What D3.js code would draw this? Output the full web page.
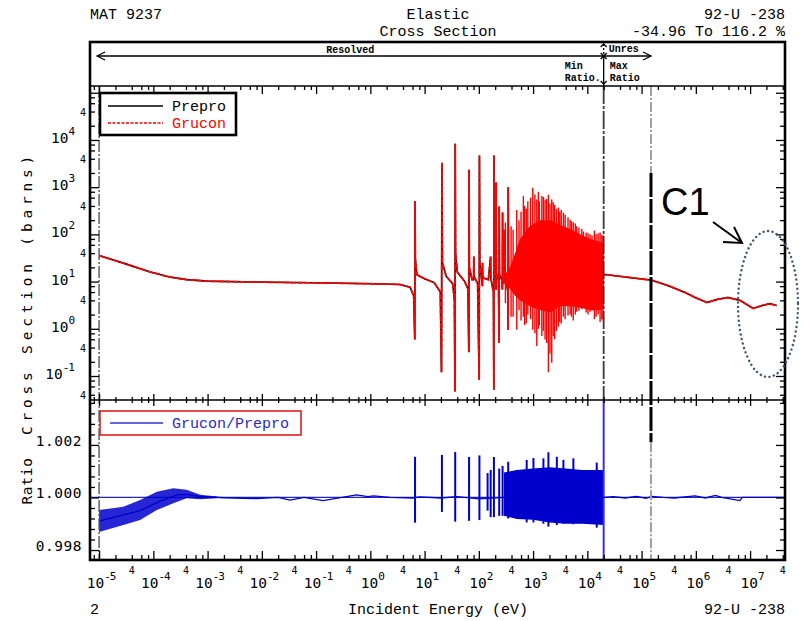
<!DOCTYPE html>
<html>
<head>
<meta charset="utf-8">
<script src="https://cdn.jsdelivr.net/npm/d3@7"></script>
<style>
  body { margin: 0; background: #fff; }
  svg { display: block; }
  .mono { font-family: "Liberation Mono", "DejaVu Sans Mono", monospace; }
  .num { font-family: "DejaVu Sans Mono", monospace; font-size: 14.5px; }
</style>
</head>
<body>
<div id="chart"></div>
<script>
// ---- values ----

// Elastic cross section (barns) vs incident energy (eV).
// Prepro and Grucon lie on top of each other at this scale.
const xsCurve = [
  [1e-5, 35.5], [3e-5, 24], [8.7e-5, 16], [2e-4, 12.5], [4.1e-4, 11], [1e-3, 10.2],
  [6e-3, 9.8], [0.18, 9.3], [1, 9.0], [3.5, 8.7], [5.4, 7.6], [6.3, 5.0],
  [6.6, 0.59], [6.67, 500], [6.75, 30], [7.2, 14], [10, 11.5], [15, 9.5],
  [19.5, 6], [20.5, 0.12], [20.87, 3300], [21.3, 25], [25, 13], [33, 9],
  [35.5, 4], [36.3, 0.047], [36.68, 8300], [37.2, 40], [40, 16], [55, 10],
  [63, 7], [65.5, 0.32], [66.03, 2350], [66.8, 20], [75, 11], [80.2, 11],
  [80.75, 34], [81.5, 13], [95, 9], [101.5, 0.083], [102.5, 4700], [104, 25],
  [112, 12], [116.5, 8], [116.9, 25], [118, 12], [150, 11], [165, 34],
  [166, 12], [186, 6], [189, 0.051], [189.7, 4700], [191, 20], [205, 12],
  [207.5, 6.7], [208.5, 1260], [211, 15], [230, 11], [236, 0.5], [237.4, 390],
  [240, 14], [265, 11], [272, 6.8], [273.7, 290], [276, 14], [289, 9],
  [291, 125], [294, 14], [310, 12], [345, 6], [347, 0.95], [347.8, 1000],
  [352, 15], [20000, 14], [21200, 14.1], [154000, 10.7], [310000, 8.2],
  [630000, 5.9], [970000, 4.6], [1.6e6, 3.6], [2.5e6, 4.2], [3.9e6, 4.6],
  [6.5e6, 4.0], [1.14e7, 2.7], [1.66e7, 3.1], [2.3e7, 3.4], [3.1e7, 3.1]
];

// dense resonance region: solid core [E, upper, lower] and single spikes [E, low, high]
const xsBandCore = [
  [300, 14, 9], [377, 20, 7], [466, 40, 5], [575, 80, 4], [879, 150, 3],
  [1343, 200, 2.5], [2056, 200, 2.2], [3140, 160, 3], [4810, 130, 3],
  [7350, 100, 2.8], [11220, 80, 2.5], [17180, 70, 2.5], [20000, 65, 2.7]
];
const xsBandSpikes = [
  [309, 3.5, 178], [393, 1.8, 148], [428, 1.8, 126], [500, 0.95, 330], [550, 2.5, 200],
  [600, 1.5, 300], [662, 1.8, 646], [700, 1.2, 400], [750, 1.3, 350], [800, 2, 500],
  [900, 1.6, 600], [986, 0.95, 977], [1080, 0.8, 700], [1170, 0.43, 550], [1250, 1, 800],
  [1300, 1.2, 500], [1450, 0.7, 650], [1550, 0.9, 620], [1664, 0.59, 550], [1780, 0.5, 560],
  [1916, 0.12, 690], [2050, 0.3, 450], [2208, 0.19, 550], [2350, 0.7, 480], [2500, 0.6, 420],
  [2700, 0.9, 350], [2930, 1.1, 370], [3100, 1.4, 300], [3300, 1.3, 330], [3622, 1.8, 288],
  [3900, 1.6, 260], [4400, 1.9, 230], [4810, 2.0, 204], [5100, 1.8, 190], [5500, 1.5, 180],
  [6000, 2.0, 170], [6380, 2.3, 148], [7000, 2.4, 140], [7900, 2.6, 130], [8470, 3.5, 115],
  [9500, 2.2, 110], [10300, 2.0, 105], [11220, 2.3, 100], [12200, 2.4, 95], [13500, 1.6, 120],
  [14500, 1.8, 100], [15800, 2.0, 105], [17180, 1.4, 110], [18500, 1.6, 98], [19500, 1.5, 95]
];

// Grucon/Prepro ratio
const ratioCurve = [
  [1e-5, 0.99910], [5.7e-5, 0.99950], [1.3e-4, 0.99985], [2.7e-4, 1.00010],
  [4.1e-4, 1.00012], [7.3e-4, 1.00004], [2e-3, 0.99999], [8e-3, 0.99996],
  [0.02, 1.00000], [0.033, 0.99990], [0.06, 1.00000], [0.135, 0.99988],
  [0.3, 1.00000], [0.56, 1.00010], [0.9, 1.00003], [1.14, 1.00006], [2.3, 1.00000],
  [6, 0.99998], [8, 1.00002], [20, 0.99998], [40, 1.00003], [100, 0.99995],
  [300, 1.00000], [20000, 1.00000], [30000, 1.00003], [50000, 0.99998],
  [80000, 1.00004], [120000, 0.99997], [154000, 1.00004], [250000, 1.00000],
  [400000, 0.99998], [970000, 1.00006], [1.5e6, 0.99998], [2.3e6, 1.00008],
  [3e6, 1.00000], [6.5e6, 0.99988], [7.2e6, 1.00000], [4.4e7, 1.00000]
];
const ratioNoiseBand = [
  [1e-5, 0.99952, 0.99869], [2.8e-5, 0.99965, 0.99895], [5.7e-5, 0.99990, 0.99914],
  [1.16e-4, 1.00022, 0.99952], [2.34e-4, 1.00035, 0.99978], [4.1e-4, 1.00029, 0.99997],
  [7.3e-4, 1.00010, 0.99993], [1.5e-3, 1.00004, 0.99997]
];
const ratioBandCore = [
  [290, 1.00095, 0.99930], [500, 1.00105, 0.99918], [1000, 1.00110, 0.99915],
  [2000, 1.00115, 0.99905], [4000, 1.00110, 0.99900], [8000, 1.00105, 0.99900],
  [20000, 1.00105, 0.99895]
];
const ratioSpikes = [
  [6.67, 1.00155, 0.99904], [20.87, 1.00162, 0.99945], [36.68, 1.00173, 0.99908],
  [66.03, 1.00154, 0.99911], [102.5, 1.00160, 0.99914], [145, 1.00093, 0.99950],
  [165.3, 1.00105, 0.99925], [189.7, 1.00154, 0.99925], [237.4, 1.00110, 0.99930],
  [273.7, 1.00120, 0.99930], [347.8, 1.00136, 0.99920], [762, 1.00143, 0.99905],
  [1015, 1.00150, 0.99905], [1550, 1.00149, 0.99900], [1916, 1.00172, 0.99889],
  [2740, 1.00155, 0.99895], [3620, 1.00143, 0.99900], [5530, 1.00149, 0.99898],
  [14900, 1.00133, 0.99885], [20000, 1.00371, 0.99762]
];

// resolved / unresolved boundaries (eV)
const resolvedEnd = 2e4;
const unresolvedEnd = 1.49e5;
const unresMarkXs = 2000;      // black part of the 149 keV marker starts here (barns)
const unresMarkRatio = 1.0021; // and ends here (ratio)

// tick labels
const xDecades = [-5, -4, -3, -2, -1, 0, 1, 2, 3, 4, 5, 6, 7];
const yDecades = [-1, 0, 1, 2, 3, 4];
const ratioLabels = [0.998, 1.000, 1.002];

// ---- layout ----
const W = 804, H = 621;
const L = 90, R = 785, T0 = 42, T1 = 86, MID = 400, B = 560;

const x = d3.scaleLog().domain([6.8e-6, 4.4e7]).range([L, R]);
const y = d3.scaleLog().domain([0.031, 1.39e5]).range([MID, T1]);
const yr = d3.scaleLinear().domain([0.99762, 1.00371]).range([B, MID]);

const svg = d3.select("#chart").append("svg")
  .attr("width", W)
  .attr("height", H);

const defs = svg.append("defs");
defs.append("clipPath").attr("id", "clipTop").append("rect")
  .attr("x", L).attr("y", T1).attr("width", R - L).attr("height", MID - T1);
defs.append("clipPath").attr("id", "clipRatio").append("rect")
  .attr("x", L).attr("y", MID).attr("width", R - L).attr("height", B - MID);

// ---- top panel ----
const gTop = svg.append("g").attr("clip-path", "url(#clipTop)");

const lineXs = d3.line().x(d => x(d[0])).y(d => y(d[1]));
const areaXs = d3.area().x(d => x(d[0])).y0(d => y(d[2])).y1(d => y(d[1]));

// Prepro (black) underneath
gTop.append("path")
  .datum(xsCurve)
  .attr("d", lineXs)
  .attr("fill", "none")
  .attr("stroke", "#000")
  .attr("stroke-width", 1.6);

gTop.append("path")
  .datum(xsBandCore)
  .attr("d", areaXs)
  .attr("fill", "#ff0000");

gTop.append("g")
  .selectAll("line")
  .data(xsBandSpikes)
  .join("line")
  .attr("x1", d => x(d[0])).attr("x2", d => x(d[0]))
  .attr("y1", d => y(d[1])).attr("y2", d => y(d[2]))
  .attr("stroke", "#ff0000")
  .attr("stroke-width", 1.4);

// Grucon (red dashed) on top
gTop.append("path")
  .datum(xsCurve)
  .attr("d", lineXs)
  .attr("fill", "none")
  .attr("stroke", "#ff0000")
  .attr("stroke-width", 1.8)
  .attr("stroke-dasharray", "6,1.2");

// ---- ratio panel ----
const gRat = svg.append("g").attr("clip-path", "url(#clipRatio)");

const lineR = d3.line().x(d => x(d[0])).y(d => yr(d[1]));
const areaR = d3.area().x(d => x(d[0])).y0(d => yr(d[2])).y1(d => yr(d[1]));

gRat.append("line")
  .attr("x1", L).attr("x2", R)
  .attr("y1", yr(1)).attr("y2", yr(1))
  .attr("stroke", "#2323d6")
  .attr("stroke-width", 1.2);

gRat.append("path")
  .datum(ratioNoiseBand)
  .attr("d", areaR)
  .attr("fill", "#0000cc")
  .attr("fill-opacity", 0.85);

gRat.append("path")
  .datum(ratioBandCore)
  .attr("d", areaR)
  .attr("fill", "#0000cc");

gRat.append("g")
  .selectAll("line")
  .data(ratioSpikes)
  .join("line")
  .attr("x1", d => x(d[0])).attr("x2", d => x(d[0]))
  .attr("y1", d => yr(d[2])).attr("y2", d => yr(d[1]))
  .attr("stroke", (d, i) => i === ratioSpikes.length - 1 ? "#3333dd" : "#0000cc")
  .attr("stroke-width", 2);

gRat.append("path")
  .datum(ratioCurve)
  .attr("d", lineR)
  .attr("fill", "none")
  .attr("stroke", "#0000cc")
  .attr("stroke-width", 1.3);

// ---- vertical reference lines ----
const vref = svg.append("g");

// data start (1e-5 eV), both panels
vref.append("line")
  .attr("x1", x(1e-5)).attr("x2", x(1e-5))
  .attr("y1", T1).attr("y2", B)
  .attr("stroke", "#555")
  .attr("stroke-width", 1.4)
  .attr("stroke-dasharray", "12,2,2,2");

// end of resolved range
vref.append("line")
  .attr("x1", x(resolvedEnd)).attr("x2", x(resolvedEnd))
  .attr("y1", T1).attr("y2", MID)
  .attr("stroke", "#3a3a3a")
  .attr("stroke-width", 1.8)
  .attr("stroke-dasharray", "18,2,3,2");

// end of unresolved range
const xu = x(unresolvedEnd);
vref.append("line")
  .attr("x1", xu).attr("x2", xu).attr("y1", T1).attr("y2", y(unresMarkXs))
  .attr("stroke", "#a0a0a0").attr("stroke-width", 2).attr("stroke-dasharray", "10,2,2,2");
vref.append("line")
  .attr("x1", xu).attr("x2", xu).attr("y1", y(unresMarkXs)).attr("y2", yr(unresMarkRatio))
  .attr("stroke", "#000").attr("stroke-width", 3).attr("stroke-dasharray", "24,2");
vref.append("line")
  .attr("x1", xu).attr("x2", xu).attr("y1", yr(unresMarkRatio)).attr("y2", B)
  .attr("stroke", "#a0a0a0").attr("stroke-width", 2).attr("stroke-dasharray", "10,2,2,2");

// ---- axes (ticks only; labels drawn below) ----
const xMinor = [];
for (let d = -6; d <= 7; d++) {
  [2, 4, 6, 8].forEach(m => {
    const v = m * Math.pow(10, d);
    if (v > 6.8e-6 && v < 4.4e7) xMinor.push(v);
  });
}
const xMajor = xDecades.map(d => Math.pow(10, d));

const yMinor = [];
for (let d = -2; d <= 5; d++) {
  [2, 4, 6, 8].forEach(m => {
    const v = m * Math.pow(10, d);
    if (v > 0.031 && v < 1.39e5) yMinor.push(v);
  });
}
const yMajor = [0.1, 1, 10, 100, 1000, 1e4, 1e5];

const rMajor = [0.998, 1.000, 1.002];
const rMinor = [0.9984, 0.9988, 0.9992, 0.9996, 1.0004, 1.0008, 1.0012, 1.0016, 1.0024, 1.0028, 1.0032, 1.0036];

function ticks(axis, values, size, tx, ty) {
  svg.append("g")
    .attr("transform", `translate(${tx},${ty})`)
    .call(axis.tickValues(values).tickSize(size).tickFormat(""))
    .call(g => g.select(".domain").remove())
    .call(g => g.selectAll(".tick line").attr("stroke", "#000").attr("stroke-width", 1.3));
}

// x ticks: top of upper panel, shared middle border, bottom
ticks(d3.axisBottom(x), xMajor, 8, 0, T1);
ticks(d3.axisBottom(x), xMinor, 4, 0, T1);
ticks(d3.axisBottom(x), xMajor, 6, 0, MID);
ticks(d3.axisTop(x), xMajor, 6, 0, MID);
ticks(d3.axisBottom(x), xMinor, 3, 0, MID);
ticks(d3.axisTop(x), xMinor, 3, 0, MID);
ticks(d3.axisTop(x), xMajor, 9, 0, B);
ticks(d3.axisTop(x), xMinor, 5, 0, B);

// y ticks, upper panel
ticks(d3.axisRight(y), yMajor, 9, L, 0);
ticks(d3.axisRight(y), yMinor, 5, L, 0);
ticks(d3.axisLeft(y), yMajor, 9, R, 0);
ticks(d3.axisLeft(y), yMinor, 5, R, 0);

// y ticks, ratio panel
ticks(d3.axisRight(yr), rMajor, 9, L, 0);
ticks(d3.axisRight(yr), rMinor, 5, L, 0);
ticks(d3.axisLeft(yr), rMajor, 9, R, 0);
ticks(d3.axisLeft(yr), rMinor, 5, R, 0);

// ---- frames ----
const frame = svg.append("g").attr("fill", "none").attr("stroke", "#000");
frame.append("rect").attr("x", L).attr("y", T0).attr("width", R - L).attr("height", B - T0).attr("stroke-width", 2.6);
frame.append("line").attr("x1", L).attr("x2", R).attr("y1", T1).attr("y2", T1).attr("stroke-width", 1.6);
frame.append("line").attr("x1", L).attr("x2", R).attr("y1", MID).attr("y2", MID).attr("stroke-width", 1.6);

// ---- header with resolved / unresolved arrows ----
const hdr = svg.append("g").attr("stroke", "#000").attr("fill", "none").attr("stroke-width", 1.3);
const xr = x(resolvedEnd);
const xs0 = x(1e-5) - 2;
const ya = 56;
hdr.append("line").attr("x1", xs0).attr("x2", xr).attr("y1", ya).attr("y2", ya);
hdr.append("path").attr("d", `M${xs0 + 8},${ya - 4} L${xs0},${ya} L${xs0 + 8},${ya + 4}`);
hdr.append("line").attr("x1", xr).attr("x2", xu).attr("y1", ya).attr("y2", ya);
hdr.append("path").attr("d", `M${xu - 8},${ya - 4} L${xu},${ya} L${xu - 8},${ya + 4}`);
// dotted double arrow above, solid arrow below the boundary
hdr.append("line").attr("x1", xr).attr("x2", xr).attr("y1", 44).attr("y2", ya).attr("stroke-dasharray", "2,2");
hdr.append("path").attr("d", `M${xr - 3},${47} L${xr},${44} L${xr + 3},${47}`);
hdr.append("path").attr("d", `M${xr - 3},${ya - 3} L${xr},${ya} L${xr + 3},${ya - 3}`);
hdr.append("line").attr("x1", xr).attr("x2", xr).attr("y1", ya).attr("y2", T1);
hdr.append("path").attr("d", `M${xr - 3},${ya + 3} L${xr},${ya} L${xr + 3},${ya + 3}`);
hdr.append("path").attr("d", `M${xr - 3},${T1 - 5} L${xr},${T1 - 2} L${xr + 3},${T1 - 5}`);

const hdrText = svg.append("g").attr("class", "mono").attr("font-size", 10).attr("font-weight", "bold");
hdrText.append("text").attr("x", (xs0 + xr) / 2).attr("y", 53).attr("text-anchor", "middle").text("Resolved");
hdrText.append("text").attr("x", xr + 5).attr("y", 52).text("Unres");
hdrText.append("text").attr("x", xr - 39).attr("y", 69).text("Min");
hdrText.append("text").attr("x", xr - 39).attr("y", 81).text("Ratio.");
hdrText.append("text").attr("x", xr + 6).attr("y", 69).text("Max");
hdrText.append("text").attr("x", xr + 6).attr("y", 81).text("Ratio");

// ---- titles ----
const ttl = svg.append("g").attr("class", "mono").attr("font-size", 15).attr("fill", "#000");
ttl.append("text").attr("x", L).attr("y", 19).text("MAT 9237");
ttl.append("text").attr("x", 438).attr("y", 19).attr("text-anchor", "middle").text("Elastic");
ttl.append("text").attr("x", 438).attr("y", 36).attr("text-anchor", "middle").text("Cross Section");
ttl.append("text").attr("x", R).attr("y", 19).attr("text-anchor", "end").text("92-U -238");
ttl.append("text").attr("x", R).attr("y", 36).attr("text-anchor", "end").text("-34.96 To 116.2 %");
ttl.append("text").attr("x", 90).attr("y", 614).text("2");
ttl.append("text").attr("x", 438).attr("y", 614).attr("text-anchor", "middle").text("Incident Energy (eV)");
ttl.append("text").attr("x", R).attr("y", 614).attr("text-anchor", "end").text("92-U -238");

// ---- tick labels ----
const lab = svg.append("g").attr("class", "num").attr("fill", "#000");

xDecades.forEach(d => {
  const t = lab.append("text")
    .attr("x", x(Math.pow(10, d)) + 2)
    .attr("y", 588)
    .attr("text-anchor", "middle");
  t.append("tspan").text("10");
  t.append("tspan").attr("dy", -8).attr("font-size", 11).attr("letter-spacing", -1).text(d < 0 ? "-" + (-d) : d);
});
xDecades.forEach(d => {
  lab.append("text")
    .attr("x", x(4 * Math.pow(10, d)))
    .attr("y", 574)
    .attr("text-anchor", "middle")
    .attr("font-size", 10)
    .text("4");
});

yDecades.forEach(d => {
  const t = lab.append("text")
    .attr("x", 74)
    .attr("y", y(Math.pow(10, d)) + 3)
    .attr("text-anchor", "end");
  t.append("tspan").text("10");
  t.append("tspan").attr("dy", -8).attr("font-size", 11).attr("letter-spacing", -1).text(d < 0 ? "-" + (-d) : d);
});
[-2, -1, 0, 1, 2, 3, 4].forEach(d => {
  lab.append("text")
    .attr("x", 83)
    .attr("y", y(4 * Math.pow(10, d)) + 4)
    .attr("text-anchor", "middle")
    .attr("font-size", 10)
    .text("4");
});

ratioLabels.forEach(v => {
  lab.append("text")
    .attr("x", 82)
    .attr("y", yr(v) + 1)
    .attr("text-anchor", "end")
    .attr("letter-spacing", 0.5)
    .text(v.toFixed(3));
});

// axis titles
svg.append("text")
  .attr("class", "num")
  .attr("transform", `translate(32,${293}) rotate(-90)`)
  .attr("text-anchor", "middle")
  .attr("font-size", 15)
  .attr("letter-spacing", 4.8)
  .text("Cross Section (barns)");
svg.append("text")
  .attr("class", "num")
  .attr("transform", `translate(32,${481}) rotate(-90)`)
  .attr("text-anchor", "middle")
  .attr("font-size", 15)
  .attr("letter-spacing", 0.7)
  .text("Ratio");

// ---- legends ----
const lg1 = svg.append("g").attr("class", "mono").attr("font-size", 15);
lg1.append("rect").attr("x", 100).attr("y", 93).attr("width", 136).attr("height", 42)
  .attr("fill", "#fff").attr("stroke", "#000").attr("stroke-width", 2.6);
lg1.append("line").attr("x1", 108).attr("x2", 163).attr("y1", 106).attr("y2", 106)
  .attr("stroke", "#000").attr("stroke-width", 1.5);
lg1.append("text").attr("x", 172).attr("y", 111).attr("fill", "#000").text("Prepro");
lg1.append("line").attr("x1", 108).attr("x2", 163).attr("y1", 123).attr("y2", 123)
  .attr("stroke", "#ff0000").attr("stroke-width", 1.3).attr("stroke-dasharray", "3,1.5");
lg1.append("text").attr("x", 172).attr("y", 128).attr("fill", "#ff0000").text("Grucon");

const lg2 = svg.append("g").attr("class", "mono").attr("font-size", 15);
lg2.append("rect").attr("x", 100).attr("y", 411).attr("width", 201).attr("height", 24)
  .attr("fill", "#fff").attr("stroke", "#e02020").attr("stroke-width", 1.6);
lg2.append("line").attr("x1", 110).attr("x2", 163).attr("y1", 423).attr("y2", 423)
  .attr("stroke", "#3535dd").attr("stroke-width", 1.5);
lg2.append("text").attr("x", 172).attr("y", 428).attr("fill", "#2828d0").text("Grucon/Prepro");

// ---- C1 annotation ----
const ann = svg.append("g");
ann.append("text")
  .attr("x", 661).attr("y", 215)
  .attr("font-family", "'Liberation Sans', Arial, sans-serif")
  .attr("font-size", 38)
  .attr("fill", "#000")
  .text("C1");
ann.append("path")
  .attr("d", "M713,222 L742,243 M734,227 L742,243 L723,242")
  .attr("fill", "none").attr("stroke", "#000").attr("stroke-width", 2);
ann.append("ellipse")
  .attr("cx", 768).attr("cy", 304).attr("rx", 30).attr("ry", 73)
  .attr("fill", "none").attr("stroke", "#3d5a78").attr("stroke-width", 2.4)
  .attr("stroke-dasharray", "0.1,4.5").attr("stroke-linecap", "round");
</script>
</body>
</html>
